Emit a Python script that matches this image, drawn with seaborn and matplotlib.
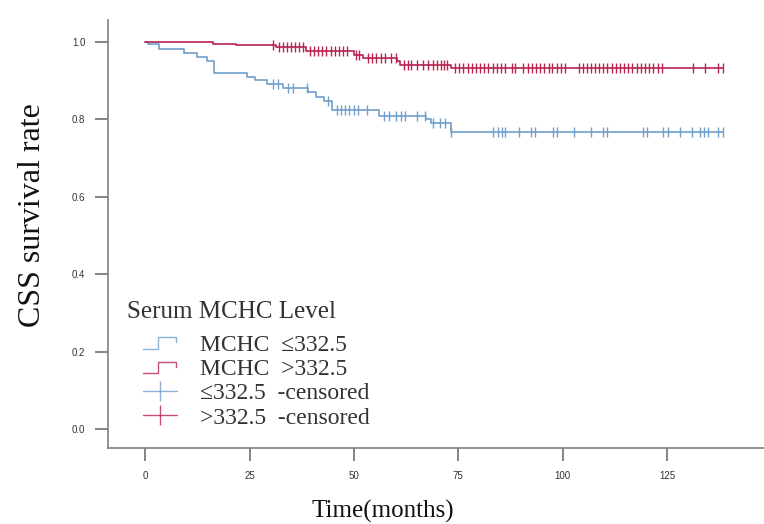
import numpy as np
import pandas as pd
import matplotlib
matplotlib.use("Agg")
import matplotlib.pyplot as plt
from matplotlib.lines import Line2D
from matplotlib.legend_handler import HandlerBase
import seaborn as sns

# step curves (time in months, survival)
low_t = [0, 0.6, 3.4, 9.2, 12.4, 14.8, 16.6, 24.3, 26.3, 29.1, 33.0, 38.9, 40.9,
         42.8, 44.8, 55.9, 67.3, 68.5, 73.2]
low_s = [1.0, 0.994, 0.983, 0.973, 0.962, 0.951, 0.921, 0.910, 0.901, 0.892, 0.882,
         0.870, 0.859, 0.848, 0.824, 0.810, 0.800, 0.790, 0.767]
high_t = [0, 16.3, 21.8, 31.3, 38.6, 49.9, 52.2, 60.3, 61.1, 73.3]
high_s = [1.0, 0.996, 0.992, 0.986, 0.978, 0.966, 0.958, 0.950, 0.941, 0.932]

# censored times
low_cens = [30.7, 31.9, 34.3, 35.5, 38.7, 43.9, 45.9, 46.9, 47.9, 48.9, 49.9, 50.9,
            53.1, 57.2, 58.4, 60.0, 61.2, 62.2, 65.2, 67.0, 69.0, 70.6, 71.8, 73.2,
            83.4, 84.4, 85.4, 86.2, 89.6, 92.4, 93.4, 97.6, 98.6, 102.7, 106.7, 109.6,
            110.6, 119.3, 120.1, 124.0, 125.1, 128.1, 130.9, 132.9, 133.9, 134.9,
            137.3, 138.3]
high_cens = [30.7, 32.0, 33.0, 33.9, 34.9, 35.9, 36.9, 37.9, 39.5, 40.4, 41.4, 42.4,
             43.4, 44.4, 45.4, 46.4, 47.4, 48.3, 50.5, 51.3, 53.4, 54.4, 55.4, 56.4,
             57.4, 58.9, 60.0, 61.9, 62.9, 63.7, 65.1, 66.6, 67.8, 69.0, 70.0, 70.9,
             71.6, 72.3, 74.2, 75.2, 76.2, 77.2, 78.2, 79.2, 80.2, 81.2, 82.2, 83.2,
             84.2, 85.2, 86.2, 87.8, 88.6, 90.6, 91.6, 92.6, 93.5, 94.6, 95.5, 96.6,
             97.5, 98.6, 99.5, 100.6, 103.8, 104.8, 105.8, 106.7, 107.8, 108.8, 109.7,
             110.7, 111.8, 112.7, 113.7, 114.7, 115.7, 116.7, 117.8, 118.7, 119.8,
             120.7, 121.7, 122.7, 123.7, 131.1, 134.1, 137.3, 138.4]

labels = ["MCHC  \u2264332.5", "MCHC  >332.5"]
cens_labels = ["\u2264332.5  -censored", ">332.5  -censored"]
x_ticks = [0, 25, 50, 75, 100, 125]
y_ticks = [0.0, 0.2, 0.4, 0.6, 0.8, 1.0]

blue = "#6f9fcb"
red = "#b8234f"

sns.set_theme(style="white")
plt.rcParams["font.family"] = ["Liberation Sans", "DejaVu Sans"]


def surv_at(times, ts, ss):
    idx = np.searchsorted(ts, times, side="right") - 1
    return np.array(ss)[idx]


rows = []
for name, ts, ss, cens in [(labels[0], low_t, low_s, low_cens),
                           (labels[1], high_t, high_s, high_cens)]:
    tt = list(ts) + [max(cens)]
    sv = list(ss) + [ss[-1]]
    for a, b in zip(tt, sv):
        rows.append({"time": a, "surv": b, "group": name})
df = pd.DataFrame(rows)

fig = plt.figure(figsize=(7.64, 5.24), dpi=100)
ax = fig.add_axes([108 / 764, 76 / 524, 656 / 764, 428 / 524])

sns.lineplot(data=df, x="time", y="surv", hue="group", palette=[blue, red],
             drawstyle="steps-post", linewidth=1.2, ax=ax, legend=False)

for cens, ts, ss, col in [(low_cens, low_t, low_s, blue), (high_cens, high_t, high_s, red)]:
    ax.plot(cens, surv_at(cens, ts, ss), linestyle="none", marker="|",
            markersize=7, markeredgewidth=1.0, color=col)

ax.set_xlim(-8.9, 148.2)
ax.set_ylim(-0.049, 1.057)
ax.set_xticks(x_ticks)
ax.set_xticklabels([str(v) for v in x_ticks])
ax.set_yticks(y_ticks)
ax.set_yticklabels([f"{v:.1f}" for v in y_ticks])
ax.set_xlabel("")
ax.set_ylabel("")

for side in ["top", "right"]:
    ax.spines[side].set_visible(False)
for side in ["left", "bottom"]:
    ax.spines[side].set_color("#808080")
    ax.spines[side].set_linewidth(1.2)
ax.tick_params(axis="both", direction="out", length=9.4, width=1.2, color="#707070",
               labelsize=7, labelcolor="#333333", bottom=True, left=True)
ax.tick_params(axis="x", pad=7)
ax.tick_params(axis="y", pad=7)
ax.set_facecolor("white")

fig.text(33 / 764, 1 - 215 / 524, "CSS survival rate", rotation=90, ha="center",
         va="center", fontsize=23, family="Liberation Serif", color="#111111")
fig.text(383 / 764, 1 - 511 / 524, "Time(months)", ha="center", va="center",
         fontsize=18, family="Liberation Serif", color="#111111")

# legend
fig.text(127 / 764, 1 - 318 / 524, "Serum MCHC Level", ha="left", va="baseline",
         fontsize=18, family="Liberation Serif", color="#333333")


class StepHandler(HandlerBase):
    def create_artists(self, legend, orig_handle, xdescent, ydescent, width, height,
                       fontsize, trans):
        xs = np.array([0.0, 0.45, 0.45, 0.95, 0.95]) * width - xdescent
        ys = np.array([0.1, 0.1, 0.8, 0.8, 0.5]) * height - ydescent
        ln = Line2D(xs, ys, color=orig_handle.get_color(), lw=1.0,
                    alpha=orig_handle.get_alpha())
        ln.set_transform(trans)
        return [ln]


h1 = Line2D([], [], color=blue, alpha=0.8)
h2 = Line2D([], [], color=red, alpha=0.8)
h3 = Line2D([], [], color=blue, alpha=0.8, lw=1.0, marker="|", markersize=14,
            markeredgewidth=1.0)
h4 = Line2D([], [], color=red, alpha=0.8, lw=1.0, marker="|", markersize=14,
            markeredgewidth=1.0)
leg = fig.legend([h1, h2, h3, h4], labels + cens_labels, loc="upper left",
                 bbox_to_anchor=(143 / 764, 1 - 334 / 524), frameon=False,
                 borderpad=0, borderaxespad=0, handlelength=1.45, handletextpad=0.95,
                 labelspacing=0.12, numpoints=1,
                 prop={"family": "Liberation Serif", "size": 17},
                 handler_map={h1: StepHandler(), h2: StepHandler()})
for t in leg.get_texts():
    t.set_color("#333333")

fig.savefig("out.png", dpi=100, facecolor="white")
